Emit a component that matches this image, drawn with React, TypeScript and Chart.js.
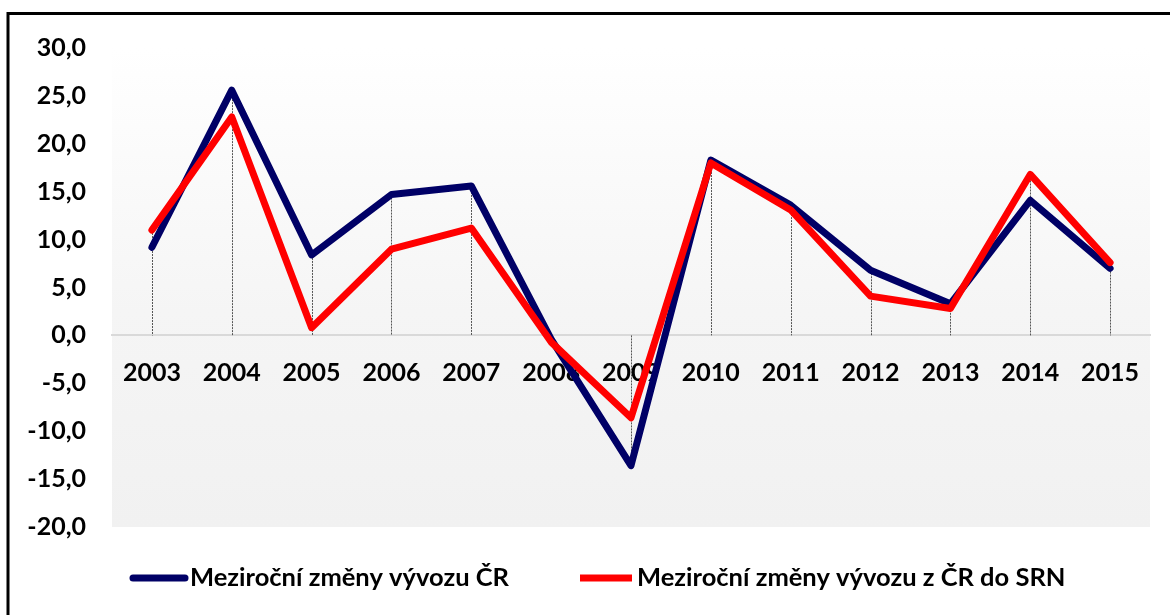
import React, { useEffect, useRef } from "react";
import { Chart, registerables } from "chart.js";

Chart.register(...registerables);

const years = ["2003", "2004", "2005", "2006", "2007", "2008", "2009", "2010", "2011", "2012", "2013", "2014", "2015"];
const exportCZ = [9.2, 25.6, 8.4, 14.7, 15.6, -0.4, -13.6, 18.3, 13.6, 6.8, 3.3, 14.1, 7.0];
const exportCZtoDE = [11.0, 22.8, 0.8, 9.0, 11.2, -0.7, -8.6, 18.0, 13.1, 4.1, 2.8, 16.8, 7.6];
const seriesNames = ["Meziroční změny vývozu ČR", "Meziroční změny vývozu z ČR do SRN"];
const yMin = -20;
const yMax = 30;
const yStep = 5;

const FONT = "Lato, 'Open Sans', sans-serif";

const decorPlugin = {
  id: "decor",
  beforeDraw(chart: any) {
    const { ctx, chartArea } = chart;
    const { left, right, top, bottom } = chartArea;
    ctx.save();
    ctx.fillStyle = "#ffffff";
    ctx.fillRect(0, 0, chart.width, chart.height);
    const g = ctx.createLinearGradient(0, top, 0, bottom);
    g.addColorStop(0, "#ffffff");
    g.addColorStop(0.55, "#f5f5f5");
    g.addColorStop(1, "#f1f1f1");
    ctx.fillStyle = g;
    ctx.fillRect(left, top, right - left, bottom - top);
    ctx.restore();
  },
  beforeDatasetsDraw(chart: any) {
    const { ctx } = chart;
    const xs = chart.scales.x;
    const ys = chart.scales.y;
    ctx.save();
    ctx.strokeStyle = "#555555";
    ctx.lineWidth = 1;
    ctx.setLineDash([2, 1]);
    chart.data.labels.forEach((_: any, i: number) => {
      const x = Math.round(xs.getPixelForValue(i)) + 0.5;
      let lo = 0;
      let hi = 0;
      chart.data.datasets.forEach((ds: any) => {
        const v = ds.data[i];
        lo = Math.min(lo, v);
        hi = Math.max(hi, v);
      });
      ctx.beginPath();
      ctx.moveTo(x, ys.getPixelForValue(hi));
      ctx.lineTo(x, ys.getPixelForValue(lo));
      ctx.stroke();
    });
    ctx.setLineDash([]);
    ctx.restore();
  },
  afterDraw(chart: any) {
    const { ctx } = chart;
    ctx.save();
    const items = [
      { x: 130, caps: "round" },
      { x: 577, caps: "butt" },
    ];
    const ly = 578;
    ctx.font = `bold 25.5px ${FONT}`;
    ctx.textBaseline = "middle";
    ctx.textAlign = "left";
    chart.data.datasets.forEach((ds: any, i: number) => {
      const it = items[i];
      ctx.strokeStyle = ds.borderColor;
      ctx.lineWidth = 7;
      ctx.lineCap = it.caps;
      ctx.beginPath();
      ctx.moveTo(it.x + 3, ly);
      ctx.lineTo(it.x + 55, ly);
      ctx.stroke();
      ctx.fillStyle = "#000000";
      ctx.fillText(ds.label, it.x + 60, ly);
    });
    ctx.lineCap = "butt";
    ctx.strokeStyle = "#000000";
    ctx.lineWidth = 3;
    ctx.strokeRect(8, 13.5, 3000, 3000);
    ctx.restore();
  },
};

export default function App() {
  const ref = useRef<HTMLCanvasElement | null>(null);
  useEffect(() => {
    document.body.style.margin = "0";
    const canvas = ref.current!;
    const chart = new Chart(canvas, {
      type: "line",
      data: {
        labels: years,
        datasets: [
          {
            label: seriesNames[0],
            data: exportCZ,
            borderColor: "#000066",
            backgroundColor: "#000066",
            borderWidth: 7,
            pointRadius: 0,
            borderJoinStyle: "round",
            borderCapStyle: "round",
            tension: 0,
            order: 1,
          },
          {
            label: seriesNames[1],
            data: exportCZtoDE,
            borderColor: "#ff0000",
            backgroundColor: "#ff0000",
            borderWidth: 7,
            pointRadius: 0,
            borderJoinStyle: "round",
            borderCapStyle: "round",
            tension: 0,
            order: 0,
          },
        ],
      },
      options: {
        animation: false,
        responsive: false,
        maintainAspectRatio: false,
        layout: { padding: { left: 0, top: 48, right: 20, bottom: 88 } },
        plugins: {
          legend: { display: false },
          tooltip: { enabled: false },
        },
        scales: {
          x: {
            position: { y: 0 } as any,
            offset: true,
            grid: { display: false, drawTicks: false },
            border: { display: true, color: "#d9d9d9", width: 2 },
            ticks: {
              color: "#000000",
              font: { family: FONT, size: 25, weight: "bold" },
              padding: 23,
              maxRotation: 0,
              autoSkip: false,
            },
          },
          y: {
            min: yMin,
            max: yMax,
            grid: { display: false, drawTicks: false },
            border: { display: false },
            afterFit: (s: any) => {
              s.width = 112;
            },
            ticks: {
              stepSize: yStep,
              color: "#000000",
              padding: 26,
              font: { family: FONT, size: 25, weight: "bold" },
              callback: (v: any) => Number(v).toFixed(1).replace(".", ","),
            },
          },
        },
      },
      plugins: [decorPlugin],
    });
    return () => chart.destroy();
  }, []);
  return <canvas ref={ref} width={1170} height={615} style={{ display: "block" }} />;
}
